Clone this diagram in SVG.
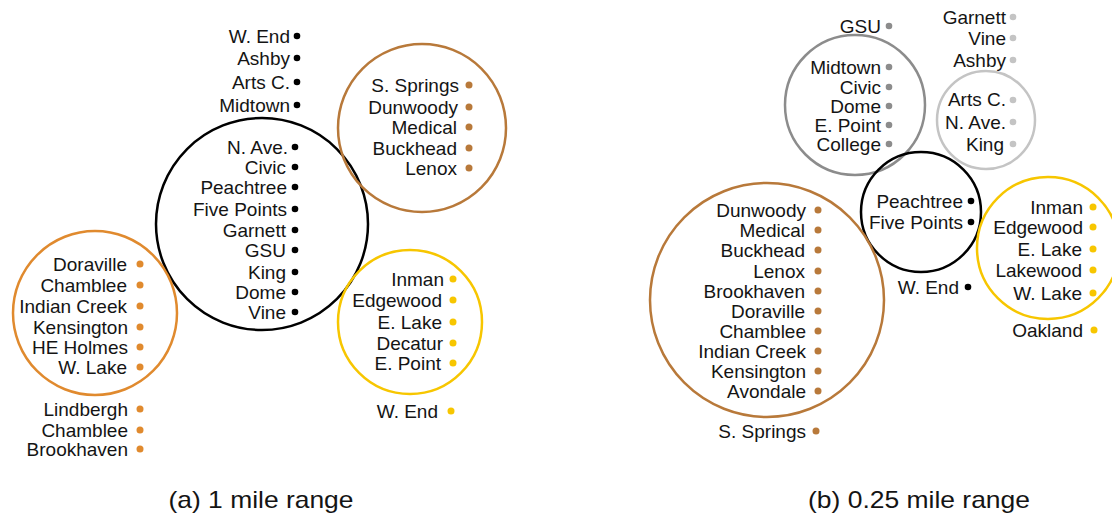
<svg xmlns="http://www.w3.org/2000/svg" width="1112" height="519" viewBox="0 0 1112 519">
<style>
text{font-family:"Liberation Sans",Arial,sans-serif;font-size:19px;fill:#141414;text-anchor:end}
.cap{font-size:24px;text-anchor:middle}
.ring{fill:none;stroke-width:2.5}
.k{fill:#000}.kr{stroke:#000}
.br{fill:#b8793a}.brr{stroke:#b8793a}
.or{fill:#e08a2e}.orr{stroke:#e08a2e}
.ye{fill:#f7c600}.yer{stroke:#f7c600}
.dg{fill:#8c8c8c}.dgr{stroke:#8c8c8c}
.lg{fill:#c4c4c4}.lgr{stroke:#c4c4c4}
</style>
<rect width="1112" height="519" fill="#fff"/>

<!-- Panel (a) -->
<g id="a-black">
<circle class="ring kr" cx="262" cy="224" r="106"/>
<text x="290" y="43">W. End</text><circle class="k" cx="297" cy="36" r="3.3"/>
<text x="290" y="64.5">Ashby</text><circle class="k" cx="297" cy="58" r="3.3"/>
<text x="290" y="88.5">Arts C.</text><circle class="k" cx="297" cy="82" r="3.3"/>
<text x="290" y="111.5">Midtown</text><circle class="k" cx="297" cy="105" r="3.3"/>
<text x="288" y="153.5">N. Ave.</text><circle class="k" cx="295" cy="147" r="3.3"/>
<text x="286" y="173.5">Civic</text><circle class="k" cx="295" cy="167" r="3.3"/>
<text x="287" y="193.5">Peachtree</text><circle class="k" cx="295" cy="187" r="3.3"/>
<text x="287" y="215.5">Five Points</text><circle class="k" cx="295" cy="209" r="3.3"/>
<text x="286" y="236.5">Garnett</text><circle class="k" cx="295" cy="230" r="3.3"/>
<text x="286" y="256.5">GSU</text><circle class="k" cx="295" cy="250" r="3.3"/>
<text x="286" y="278.5">King</text><circle class="k" cx="295" cy="272" r="3.3"/>
<text x="286" y="298.5">Dome</text><circle class="k" cx="295" cy="292" r="3.3"/>
<text x="286" y="318.5">Vine</text><circle class="k" cx="295" cy="312" r="3.3"/>
</g>

<g id="a-brown">
<circle class="ring brr" cx="422" cy="128" r="84"/>
<text x="459" y="91.5">S. Springs</text><circle class="br" cx="469" cy="85" r="3.5"/>
<text x="458" y="113.5">Dunwoody</text><circle class="br" cx="469" cy="107" r="3.5"/>
<text x="457" y="133.5">Medical</text><circle class="br" cx="469" cy="127" r="3.5"/>
<text x="457" y="154.5">Buckhead</text><circle class="br" cx="469" cy="148" r="3.5"/>
<text x="457" y="174.5">Lenox</text><circle class="br" cx="469" cy="168" r="3.5"/>
</g>

<g id="a-orange">
<circle class="ring orr" cx="95" cy="313" r="82"/>
<text x="127" y="270.5">Doraville</text><circle class="or" cx="140" cy="264" r="3.5"/>
<text x="127" y="291.5">Chamblee</text><circle class="or" cx="140" cy="285" r="3.5"/>
<text x="127" y="312.5">Indian Creek</text><circle class="or" cx="140" cy="306" r="3.5"/>
<text x="128" y="333.5">Kensington</text><circle class="or" cx="140" cy="327" r="3.5"/>
<text x="128" y="353.5">HE Holmes</text><circle class="or" cx="140" cy="347" r="3.5"/>
<text x="127" y="373.5">W. Lake</text><circle class="or" cx="140" cy="367" r="3.5"/>
<text x="128" y="415.5">Lindbergh</text><circle class="or" cx="140" cy="409" r="3.5"/>
<text x="128" y="436.5">Chamblee</text><circle class="or" cx="140" cy="430" r="3.5"/>
<text x="128" y="455.5">Brookhaven</text><circle class="or" cx="140" cy="449" r="3.5"/>
</g>

<g id="a-yellow">
<circle class="ring yer" cx="410" cy="322" r="72"/>
<text x="444" y="285.5">Inman</text><circle class="ye" cx="453" cy="279" r="3.5"/>
<text x="442" y="306.5">Edgewood</text><circle class="ye" cx="453" cy="300" r="3.5"/>
<text x="442" y="328.5">E. Lake</text><circle class="ye" cx="453" cy="322" r="3.5"/>
<text x="443" y="349.5">Decatur</text><circle class="ye" cx="453" cy="343" r="3.5"/>
<text x="441" y="369.5">E. Point</text><circle class="ye" cx="453" cy="363" r="3.5"/>
<text x="438" y="417.5">W. End</text><circle class="ye" cx="451" cy="411" r="3.5"/>
</g>

<!-- Panel (b) -->
<g id="b-darkgray">
<circle class="ring dgr" cx="855" cy="105" r="70"/>
<text x="881" y="32.5">GSU</text><circle class="dg" cx="889" cy="26" r="3.3"/>
<text x="881" y="73.5">Midtown</text><circle class="dg" cx="889" cy="67" r="3.3"/>
<text x="881" y="93.5">Civic</text><circle class="dg" cx="889" cy="87" r="3.3"/>
<text x="881" y="112.5">Dome</text><circle class="dg" cx="889" cy="106" r="3.3"/>
<text x="881" y="131.5">E. Point</text><circle class="dg" cx="889" cy="125" r="3.3"/>
<text x="881" y="150.5">College</text><circle class="dg" cx="889" cy="144" r="3.3"/>
</g>

<g id="b-lightgray">
<circle class="ring lgr" cx="986" cy="120" r="49"/>
<text x="1006" y="23.5">Garnett</text><circle class="lg" cx="1013" cy="17" r="3.3"/>
<text x="1006" y="44.5">Vine</text><circle class="lg" cx="1013" cy="38" r="3.3"/>
<text x="1006" y="66.5">Ashby</text><circle class="lg" cx="1013" cy="60" r="3.3"/>
<text x="1006" y="106">Arts C.</text><circle class="lg" cx="1013" cy="100" r="3.3"/>
<text x="1006" y="128.5">N. Ave.</text><circle class="lg" cx="1013" cy="122" r="3.3"/>
<text x="1004" y="150.5">King</text><circle class="lg" cx="1013" cy="144" r="3.3"/>
</g>

<g id="b-black">
<circle class="ring kr" cx="921" cy="212" r="60"/>
<text x="963" y="207.5">Peachtree</text><circle class="k" cx="971" cy="201" r="3.3"/>
<text x="963" y="228.5">Five Points</text><circle class="k" cx="971" cy="222" r="3.3"/>
<text x="959" y="293.5">W. End</text><circle class="k" cx="968" cy="287" r="3.3"/>
</g>

<g id="b-brown">
<circle class="ring brr" cx="767" cy="300" r="117"/>
<text x="806" y="216.5">Dunwoody</text><circle class="br" cx="818" cy="210" r="3.5"/>
<text x="805" y="236.5">Medical</text><circle class="br" cx="818" cy="230" r="3.5"/>
<text x="805" y="256.5">Buckhead</text><circle class="br" cx="818" cy="250" r="3.5"/>
<text x="805" y="277.5">Lenox</text><circle class="br" cx="818" cy="271" r="3.5"/>
<text x="805" y="297.5">Brookhaven</text><circle class="br" cx="818" cy="291" r="3.5"/>
<text x="805" y="317.5">Doraville</text><circle class="br" cx="818" cy="311" r="3.5"/>
<text x="806" y="337.5">Chamblee</text><circle class="br" cx="818" cy="331" r="3.5"/>
<text x="806" y="357.5">Indian Creek</text><circle class="br" cx="818" cy="351" r="3.5"/>
<text x="806" y="377.5">Kensington</text><circle class="br" cx="818" cy="371" r="3.5"/>
<text x="806" y="397.5">Avondale</text><circle class="br" cx="818" cy="391" r="3.5"/>
<text x="806" y="437.5">S. Springs</text><circle class="br" cx="816" cy="431" r="3.5"/>
</g>

<g id="b-yellow">
<circle class="ring yer" cx="1048" cy="248" r="71"/>
<text x="1083" y="213.5">Inman</text><circle class="ye" cx="1093" cy="207" r="3.5"/>
<text x="1083" y="233.5">Edgewood</text><circle class="ye" cx="1093" cy="227" r="3.5"/>
<text x="1082" y="255.5">E. Lake</text><circle class="ye" cx="1093" cy="249" r="3.5"/>
<text x="1082" y="276.5">Lakewood</text><circle class="ye" cx="1093" cy="270" r="3.5"/>
<text x="1082" y="299.5">W. Lake</text><circle class="ye" cx="1093" cy="293" r="3.5"/>
<text x="1083" y="336.5">Oakland</text><circle class="ye" cx="1094" cy="330" r="3.5"/>
</g>

<g id="captions">
<text class="cap" x="261" y="508" textLength="185" lengthAdjust="spacingAndGlyphs">(a) 1 mile range</text>
<text class="cap" x="919" y="508" textLength="222" lengthAdjust="spacingAndGlyphs">(b) 0.25 mile range</text>
</g>
</svg>
